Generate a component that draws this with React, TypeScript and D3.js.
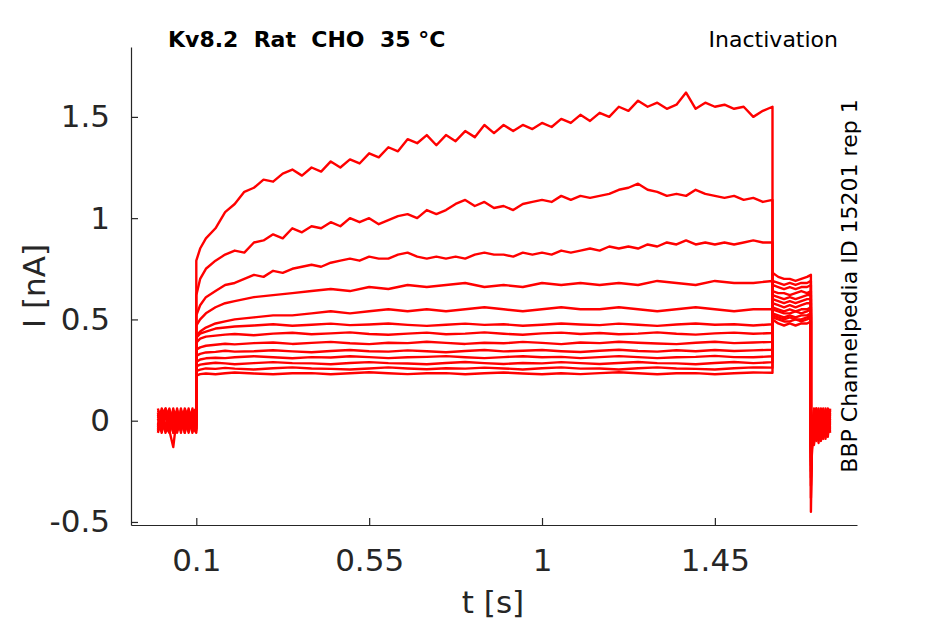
// Kv8.2 inactivation current traces
import React, { useEffect, useRef } from 'react';
import * as d3 from 'd3';

// sampling grids (s)
const baseTimes = [0, 0.01, 0.02, 0.03, 0.04, 0.05, 0.06, 0.07, 0.08, 0.09, 0.1];
const pulseTimesFine = [0.1, 0.11, 0.125, 0.15, 0.175,
  0.2, 0.225, 0.25, 0.275, 0.3, 0.325, 0.35, 0.375, 0.4, 0.425, 0.45, 0.475,
  0.5, 0.525, 0.55, 0.575, 0.6, 0.625, 0.65, 0.675, 0.7, 0.725, 0.75, 0.775,
  0.8, 0.825, 0.85, 0.875, 0.9, 0.925, 0.95, 0.975, 1.0, 1.025, 1.05, 1.075,
  1.1, 1.125, 1.15, 1.175, 1.2, 1.225, 1.25, 1.275, 1.3, 1.325, 1.35, 1.375,
  1.4, 1.425, 1.45, 1.475, 1.5, 1.525, 1.55, 1.575, 1.6];
const pulseTimes = [0.1, 0.11, 0.125, 0.15, 0.175,
  0.2, 0.25, 0.3, 0.35, 0.4, 0.45, 0.5, 0.55, 0.6, 0.65, 0.7, 0.75, 0.8, 0.85,
  0.9, 0.95, 1.0, 1.05, 1.1, 1.15, 1.2, 1.25, 1.3, 1.35, 1.4, 1.45, 1.5, 1.55, 1.6];
const tailTimes = [1.6, 1.615, 1.63, 1.645, 1.66, 1.675, 1.69, 1.7];
const offTimes = [1.7, 1.703, 1.708, 1.714, 1.72, 1.726, 1.732, 1.738, 1.744, 1.75];

// holding current before the step (nA), one row per sweep
const baselineI = [
  [0.02, -0.03, 0.04, -0.05, -0.13, 0.03, -0.04, 0.05, -0.02, 0.03, -0.03],
  [-0.02, 0.05, -0.04, 0.02, -0.06, 0.04, 0.01, -0.05, 0.06, -0.04, 0.02],
  [0.04, -0.05, 0.02, 0.06, -0.03, -0.05, 0.05, 0.02, -0.06, 0.04, -0.05],
  [-0.04, 0.03, 0.06, -0.02, 0.04, -0.06, 0.03, -0.04, 0.02, -0.01, 0.05],
  [0.06, -0.01, -0.05, 0.03, 0.02, 0.05, -0.06, 0.04, -0.03, 0.06, -0.04],
  [-0.05, 0.04, -0.02, -0.04, 0.05, -0.02, 0.04, -0.06, 0.05, -0.05, 0.01],
  [0.01, -0.06, 0.05, 0.01, -0.05, 0.06, -0.03, 0.01, 0.04, -0.03, -0.06],
  [0.05, 0.02, -0.03, -0.06, 0.03, -0.04, 0.06, -0.02, -0.05, 0.05, 0.03],
  [-0.03, 0.06, 0.01, 0.04, -0.04, 0.01, -0.05, 0.06, 0.01, -0.06, 0.04],
  [0.03, -0.04, 0.06, -0.03, 0.06, -0.03, 0.02, -0.03, 0.05, 0.02, -0.02],
  [-0.06, 0.01, -0.06, 0.05, -0.01, 0.04, -0.05, 0.03, -0.04, 0.04, 0.06],
  [0.02, 0.05, 0.03, -0.05, 0.05, -0.05, 0.04, -0.06, 0.03, -0.02, -0.04],
  [-0.01, -0.05, 0.05, 0.02, -0.06, 0.02, -0.02, 0.05, -0.05, 0.05, 0.0],
];

// the three largest sweeps, sampled on the fine grid
const pulseFineI = [
  [0.79, 0.85, 0.90, 0.95, 1.03,
    1.07, 1.13, 1.15, 1.19, 1.18, 1.22, 1.24, 1.21, 1.25, 1.23, 1.28, 1.25,
    1.29, 1.27, 1.32, 1.30, 1.35, 1.33, 1.39, 1.37, 1.41, 1.36, 1.41, 1.38,
    1.43, 1.40, 1.46, 1.42, 1.46, 1.43, 1.46, 1.44, 1.47, 1.45, 1.49, 1.47,
    1.51, 1.48, 1.52, 1.50, 1.55, 1.53, 1.58, 1.55, 1.57, 1.54, 1.56, 1.62,
    1.54, 1.57, 1.55, 1.56, 1.54, 1.55, 1.50, 1.53, 1.55],
  [0.62, 0.70, 0.75, 0.79, 0.82,
    0.84, 0.83, 0.88, 0.89, 0.92, 0.90, 0.95, 0.93, 0.96, 0.95, 0.98, 0.96,
    1.00, 0.98, 1.00, 0.97, 0.99, 1.01, 1.02, 1.00, 1.04, 1.02, 1.04, 1.07,
    1.09, 1.06, 1.08, 1.05, 1.06, 1.04, 1.07, 1.08, 1.09, 1.08, 1.11, 1.09,
    1.11, 1.10, 1.11, 1.12, 1.14, 1.15, 1.17, 1.14, 1.13, 1.11, 1.12, 1.11,
    1.14, 1.12, 1.11, 1.10, 1.11, 1.09, 1.10, 1.08, 1.09],
  [0.52, 0.57, 0.61, 0.64, 0.67,
    0.68, 0.70, 0.72, 0.71, 0.74, 0.73, 0.75, 0.76, 0.77, 0.76, 0.78, 0.79,
    0.80, 0.79, 0.81, 0.80, 0.80, 0.82, 0.83, 0.81, 0.80, 0.81, 0.80, 0.81,
    0.80, 0.82, 0.83, 0.82, 0.82, 0.81, 0.83, 0.82, 0.83, 0.82, 0.84, 0.83,
    0.84, 0.85, 0.84, 0.86, 0.85, 0.86, 0.85, 0.87, 0.86, 0.88, 0.87, 0.89,
    0.87, 0.88, 0.87, 0.88, 0.87, 0.88, 0.89, 0.88, 0.88],
];

// the remaining sweeps on the coarse grid
const pulseI = [
  [0.47, 0.50, 0.53, 0.56, 0.58, 0.59, 0.61, 0.62, 0.63, 0.64, 0.65, 0.64, 0.66, 0.65, 0.67, 0.66, 0.67, 0.68, 0.66, 0.67, 0.66, 0.68, 0.67, 0.68, 0.67, 0.68, 0.67, 0.69, 0.68, 0.67, 0.69, 0.68, 0.68, 0.69],
  [0.42, 0.44, 0.46, 0.48, 0.49, 0.50, 0.51, 0.52, 0.52, 0.53, 0.54, 0.53, 0.54, 0.55, 0.54, 0.55, 0.54, 0.55, 0.56, 0.55, 0.54, 0.55, 0.56, 0.55, 0.55, 0.56, 0.55, 0.54, 0.55, 0.56, 0.55, 0.54, 0.55, 0.55],
  [0.41, 0.43, 0.44, 0.455, 0.46, 0.465, 0.47, 0.476, 0.469, 0.474, 0.479, 0.472, 0.475, 0.48, 0.473, 0.468, 0.474, 0.479, 0.473, 0.476, 0.469, 0.474, 0.48, 0.475, 0.472, 0.479, 0.474, 0.468, 0.475, 0.48, 0.474, 0.476, 0.47, 0.476],
  [0.385, 0.405, 0.415, 0.42, 0.425, 0.428, 0.422, 0.43, 0.434, 0.427, 0.431, 0.436, 0.428, 0.424, 0.43, 0.435, 0.427, 0.43, 0.436, 0.429, 0.424, 0.431, 0.435, 0.428, 0.433, 0.427, 0.43, 0.436, 0.429, 0.425, 0.431, 0.435, 0.429, 0.433],
  [0.35, 0.362, 0.37, 0.375, 0.38, 0.377, 0.383, 0.386, 0.379, 0.384, 0.389, 0.382, 0.378, 0.385, 0.383, 0.39, 0.384, 0.379, 0.385, 0.382, 0.389, 0.384, 0.378, 0.386, 0.383, 0.39, 0.385, 0.381, 0.378, 0.385, 0.39, 0.383, 0.386, 0.389],
  [0.32, 0.33, 0.337, 0.34, 0.345, 0.341, 0.343, 0.348, 0.342, 0.338, 0.344, 0.349, 0.343, 0.341, 0.347, 0.343, 0.338, 0.344, 0.349, 0.342, 0.345, 0.349, 0.343, 0.339, 0.345, 0.35, 0.344, 0.341, 0.348, 0.343, 0.349, 0.344, 0.347, 0.35],
  [0.29, 0.302, 0.308, 0.311, 0.309, 0.313, 0.318, 0.313, 0.308, 0.314, 0.312, 0.318, 0.314, 0.309, 0.313, 0.315, 0.319, 0.313, 0.309, 0.314, 0.318, 0.313, 0.315, 0.309, 0.314, 0.319, 0.314, 0.309, 0.313, 0.315, 0.32, 0.314, 0.313, 0.318],
  [0.268, 0.277, 0.281, 0.286, 0.283, 0.279, 0.284, 0.289, 0.284, 0.283, 0.279, 0.285, 0.289, 0.284, 0.282, 0.279, 0.285, 0.29, 0.284, 0.28, 0.285, 0.283, 0.289, 0.284, 0.28, 0.285, 0.29, 0.284, 0.283, 0.279, 0.285, 0.29, 0.284, 0.289],
  [0.245, 0.252, 0.258, 0.256, 0.261, 0.257, 0.253, 0.259, 0.263, 0.258, 0.256, 0.253, 0.258, 0.263, 0.258, 0.254, 0.259, 0.257, 0.262, 0.258, 0.253, 0.259, 0.263, 0.257, 0.258, 0.253, 0.259, 0.263, 0.258, 0.256, 0.253, 0.259, 0.263, 0.262],
  [0.222, 0.23, 0.233, 0.229, 0.234, 0.238, 0.233, 0.229, 0.234, 0.235, 0.229, 0.234, 0.239, 0.234, 0.23, 0.234, 0.235, 0.229, 0.234, 0.238, 0.233, 0.229, 0.234, 0.23, 0.235, 0.239, 0.234, 0.229, 0.234, 0.235, 0.229, 0.234, 0.238, 0.237],
];

// test pulse after the conditioning step
const tailI = [
  [0.50, 0.48, 0.47, 0.48, 0.47, 0.48, 0.48, 0.49],
  [0.51, 0.50, 0.49, 0.49, 0.50, 0.49, 0.50, 0.51],
  [0.52, 0.51, 0.50, 0.51, 0.50, 0.50, 0.51, 0.52],
  [0.53, 0.52, 0.51, 0.52, 0.51, 0.52, 0.52, 0.53],
  [0.55, 0.54, 0.53, 0.53, 0.54, 0.53, 0.54, 0.55],
  [0.56, 0.55, 0.54, 0.55, 0.54, 0.55, 0.55, 0.56],
  [0.58, 0.57, 0.56, 0.57, 0.56, 0.57, 0.58, 0.58],
  [0.60, 0.59, 0.58, 0.59, 0.58, 0.59, 0.60, 0.60],
  [0.62, 0.61, 0.60, 0.61, 0.60, 0.61, 0.62, 0.62],
  [0.64, 0.63, 0.63, 0.62, 0.63, 0.64, 0.63, 0.64],
  [0.67, 0.66, 0.65, 0.66, 0.65, 0.66, 0.66, 0.67],
  [0.69, 0.68, 0.67, 0.68, 0.67, 0.68, 0.68, 0.69],
  [0.73, 0.71, 0.70, 0.70, 0.69, 0.70, 0.71, 0.72],
];

// return to holding
const offI = [
  [-0.45, -0.08, 0.03, -0.10, 0.04, -0.05, 0.05, -0.07, 0.02, -0.03],
  [-0.38, -0.12, 0.05, -0.04, -0.09, 0.03, -0.06, 0.04, -0.05, 0.03],
  [-0.32, -0.06, -0.11, 0.04, -0.02, -0.08, 0.06, -0.03, 0.04, -0.06],
  [-0.28, -0.14, 0.02, -0.07, 0.05, -0.03, -0.09, 0.05, -0.04, 0.02],
  [-0.25, -0.04, -0.09, 0.06, -0.05, 0.04, -0.02, -0.08, 0.05, -0.02],
  [-0.22, -0.10, 0.04, -0.02, -0.11, 0.05, 0.01, -0.05, -0.02, 0.05],
  [-0.20, -0.07, -0.03, 0.05, -0.06, -0.10, 0.04, 0.02, -0.07, 0.01],
  [-0.18, -0.13, 0.06, -0.08, 0.02, -0.04, -0.07, 0.06, 0.01, -0.05],
  [-0.16, -0.05, -0.12, 0.01, 0.06, -0.07, 0.03, -0.04, 0.06, -0.01],
  [-0.15, -0.09, 0.01, -0.05, -0.03, 0.06, -0.08, 0.00, -0.06, 0.04],
  [-0.14, -0.03, -0.07, 0.03, -0.08, 0.01, 0.05, -0.09, 0.03, -0.04],
  [-0.13, -0.11, 0.05, -0.06, 0.03, -0.09, -0.01, 0.03, -0.08, 0.06],
  [-0.12, -0.06, -0.02, 0.06, -0.04, 0.02, -0.05, -0.06, 0.04, 0.00],
];

const xTicks = [0.1, 0.55, 1, 1.45];
const xTickLabels = ['0.1', '0.55', '1', '1.45'];
const yTicks = [-0.5, 0, 0.5, 1, 1.5];
const yTickLabels = ['-0.5', '0', '0.5', '1', '1.5'];

const FONT = '"DejaVu Sans", sans-serif';
const AXIS_COLOR = '#262626';

const zip = (ts: number[], vs: number[]) => ts.map((t, i) => [t, vs[i]] as [number, number]);

export default function App() {
  const svgRef = useRef<SVGSVGElement>(null);

  useEffect(() => {
    if (!svgRef.current) return;
    const svg = d3.select(svgRef.current);
    svg.selectAll('*').remove();

    const x = d3.scaleLinear().domain([-0.07, 1.82]).range([131, 857]);
    const y = d3.scaleLinear().domain([-0.515, 1.845]).range([525, 47]);

    // build one polyline per sweep
    const sweeps = baselineI.map((base, k) => {
      const pulse = k < pulseFineI.length
        ? zip(pulseTimesFine, pulseFineI[k])
        : zip(pulseTimes, pulseI[k - pulseFineI.length]);
      return [
        ...zip(baseTimes, base),
        ...pulse,
        ...zip(tailTimes, tailI[k]),
        ...zip(offTimes, offI[k]),
      ];
    });

    const line = d3.line<[number, number]>()
      .x(d => x(d[0]))
      .y(d => y(d[1]));

    svg.append('g')
      .selectAll('path')
      .data(sweeps)
      .enter()
      .append('path')
      .attr('d', d => line(d) as string)
      .attr('fill', 'none')
      .attr('stroke', '#ff0000')
      .attr('stroke-width', 2.4)
      .attr('stroke-linejoin', 'round');

    // axes, MATLAB style: ticks pointing in, no box
    const xAxis = svg.append('g')
      .attr('transform', 'translate(0,525)')
      .call(d3.axisBottom(x)
        .tickValues(xTicks)
        .tickFormat((_, i) => xTickLabels[i])
        .tickSizeInner(-7)
        .tickSizeOuter(0)
        .tickPadding(24));

    const yAxis = svg.append('g')
      .attr('transform', 'translate(131,0)')
      .call(d3.axisLeft(y)
        .tickValues(yTicks)
        .tickFormat((_, i) => yTickLabels[i])
        .tickSizeInner(-7)
        .tickSizeOuter(0)
        .tickPadding(21));

    [xAxis, yAxis].forEach(ax => {
      ax.attr('font-family', FONT).attr('font-size', 31);
      ax.select('.domain').attr('stroke', AXIS_COLOR).attr('stroke-width', 1.2);
      ax.selectAll('.tick line').attr('stroke', AXIS_COLOR).attr('stroke-width', 1.2);
      ax.selectAll('.tick text').attr('fill', AXIS_COLOR);
    });

    // axis labels
    svg.append('text')
      .attr('x', 493)
      .attr('y', 613)
      .attr('text-anchor', 'middle')
      .attr('font-family', FONT)
      .attr('font-size', 31)
      .attr('fill', AXIS_COLOR)
      .text('t [s]');

    svg.append('text')
      .attr('transform', 'translate(45,286) rotate(-90)')
      .attr('text-anchor', 'middle')
      .attr('font-family', FONT)
      .attr('font-size', 31)
      .attr('fill', AXIS_COLOR)
      .text('I [nA]');

    // annotations
    svg.append('text')
      .attr('x', 168)
      .attr('y', 47)
      .attr('font-family', FONT)
      .attr('font-size', 22)
      .attr('font-weight', 'bold')
      .attr('fill', '#000')
      .style('white-space', 'pre')
      .text('Kv8.2  Rat  CHO  35 °C');

    svg.append('text')
      .attr('x', 838)
      .attr('y', 47)
      .attr('text-anchor', 'end')
      .attr('font-family', FONT)
      .attr('font-size', 22)
      .attr('fill', '#000')
      .text('Inactivation');

    svg.append('text')
      .attr('transform', 'translate(857,286) rotate(-90)')
      .attr('text-anchor', 'middle')
      .attr('font-family', FONT)
      .attr('font-size', 22)
      .attr('fill', '#000')
      .text('BBP Channelpedia ID 15201 rep 1');
  }, []);

  return (
    <svg
      ref={svgRef}
      width={945}
      height={624}
      style={{ position: 'absolute', left: 0, top: 0, background: '#fff' }}
    />
  );
}
